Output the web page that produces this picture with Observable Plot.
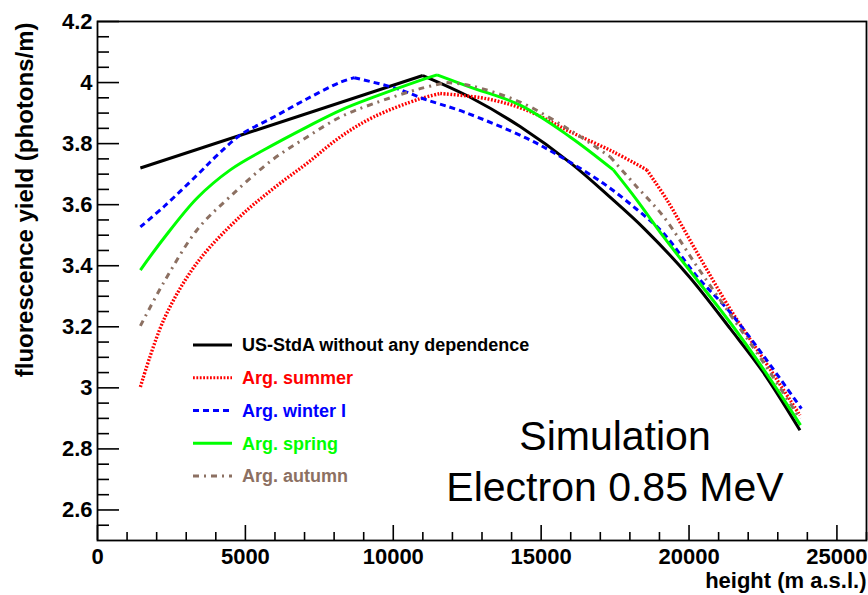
<!DOCTYPE html>
<html>
<head>
<meta charset="utf-8">
<script src="https://cdn.jsdelivr.net/npm/d3@7"></script>
<script src="https://cdn.jsdelivr.net/npm/@observablehq/plot@0.6"></script>
<style>
  html, body { margin: 0; padding: 0; background: #fff; }
  #chart svg { display: block; }
</style>
</head>
<body>
<div id="chart"></div>
<script>
// Fluorescence yield vs. height for several atmospheric profiles (electron, 0.85 MeV)

const xTicks = [0, 5000, 10000, 15000, 20000, 25000];
const yTicks = [2.6, 2.8, 3, 3.2, 3.4, 3.6, 3.8, 4, 4.2];

const seriesNames = [
  "US-StdA without any dependence",
  "Arg. summer",
  "Arg. winter I",
  "Arg. spring",
  "Arg. autumn"
];

// US standard atmosphere
const usHeights = [1450, 11000, 12600, 14300, 16000, 17300, 18500, 20000, 21400, 22500, 23750];
const usYield   = [3.72, 4.023, 3.952, 3.855, 3.736, 3.627, 3.520, 3.365, 3.193, 3.052, 2.861];
const usCorners = [11000];

// Argentina, summer
const summerHeights = [1450, 2250, 3370, 4830, 5960, 7090, 8210, 9330, 10910, 11590, 13160, 14520, 15980, 17440, 18570, 19250, 20260, 21390, 22510, 23750];
const summerYield   = [3.003, 3.225, 3.410, 3.562, 3.654, 3.736, 3.822, 3.887, 3.947, 3.964, 3.947, 3.909, 3.839, 3.773, 3.714, 3.616, 3.445, 3.258, 3.095, 2.910];
const summerCorners = [11590, 18570];

// Argentina, winter I
const winterHeights = [1450, 2250, 3370, 4050, 4830, 5960, 7090, 8210, 8680, 10130, 11020, 12380, 14520, 15750, 17100, 18230, 19130, 20260, 21390, 22510, 23800];
const winterYield   = [3.527, 3.594, 3.697, 3.762, 3.828, 3.887, 3.947, 4.001, 4.016, 3.980, 3.947, 3.904, 3.817, 3.752, 3.670, 3.585, 3.507, 3.366, 3.247, 3.106, 2.932];
const winterCorners = [8680];

// Argentina, spring
const springHeights = [1450, 2250, 3370, 4490, 5620, 7090, 8210, 9330, 10910, 11480, 12600, 14290, 15980, 17440, 18230, 19130, 20260, 21390, 22510, 23770];
const springYield   = [3.386, 3.491, 3.622, 3.714, 3.779, 3.855, 3.909, 3.952, 4.007, 4.025, 3.985, 3.926, 3.822, 3.714, 3.616, 3.496, 3.355, 3.214, 3.062, 2.878];
const springCorners = [11480, 17440];

// Argentina, autumn
const autumnHeights = [1450, 2240, 3370, 4490, 5900, 7090, 8210, 9330, 10910, 11800, 12600, 14290, 15980, 17330, 18230, 19130, 20260, 21390, 22510, 23750];
const autumnYield   = [3.203, 3.345, 3.518, 3.627, 3.746, 3.822, 3.887, 3.931, 3.980, 4.000, 3.990, 3.936, 3.844, 3.757, 3.659, 3.562, 3.399, 3.241, 3.084, 2.899];
const autumnCorners = [11800, 17330];

const styles = [
  {color: "#000000", dash: null, width: 3},
  {color: "#ff0000", dash: "1.8,1.6", width: 3.4},
  {color: "#0000ff", dash: "6,4", width: 3},
  {color: "#00ff00", dash: null, width: 3},
  {color: "#8c7062", dash: "6,5,2,5", width: 3}
];

const series = [
  {heights: usHeights, yields: usYield, corners: usCorners},
  {heights: summerHeights, yields: summerYield, corners: summerCorners},
  {heights: winterHeights, yields: winterYield, corners: winterCorners},
  {heights: springHeights, yields: springYield, corners: springCorners},
  {heights: autumnHeights, yields: autumnYield, corners: autumnCorners}
].map((s, i) => {
  const rows = s.heights.map((h, j) => ({height: h, yield: s.yields[j]}));
  // split into smooth pieces at the corner heights (the corner point belongs to both pieces)
  const pieces = [];
  let cur = [];
  rows.forEach(r => {
    cur.push(r);
    if (s.corners.includes(r.height)) { pieces.push(cur); cur = [r]; }
  });
  if (cur.length > 1) pieces.push(cur);
  return {name: seriesNames[i], ...styles[i], pieces};
});

const xMinor = d3.range(1000, 26001, 1000).filter(v => v % 5000 !== 0);
const yMinor = d3.range(2.55, 4.2, 0.05).map(v => +v.toFixed(2)).filter(v => Math.abs(v * 5 - Math.round(v * 5)) > 1e-6);

const font = "'Liberation Sans', Arial, Helvetica, sans-serif";
const W = 868, H = 595, mL = 97, mR = 2, mT = 21, mB = 55;
const plotW = W - mL - mR, plotH = H - mT - mB;

const svg = Plot.plot({
  width: W,
  height: H,
  marginLeft: mL,
  marginRight: mR,
  marginTop: mT,
  marginBottom: mB,
  x: {domain: [0, 26000]},
  y: {domain: [2.5, 4.2]},
  style: {fontFamily: font, color: "black", background: "white", overflow: "visible"},
  marks: [
    ...series.flatMap(s => s.pieces.map(p => Plot.line(p, {
      x: "height", y: "yield", curve: "catmull-rom",
      stroke: s.color, strokeWidth: s.width,
      strokeDasharray: s.dash, strokeLinecap: "butt", strokeLinejoin: "round"
    }))),
    // inward ticks along the bottom and left edges of the frame
    Plot.tickX(xMinor, {x: d => d, insetTop: plotH - 8, stroke: "black", strokeWidth: 1.6}),
    Plot.tickX(xTicks, {x: d => d, insetTop: plotH - 15, stroke: "black", strokeWidth: 1.6}),
    Plot.tickY(yMinor, {y: d => d, insetRight: plotW - 12, stroke: "black", strokeWidth: 1.6}),
    Plot.tickY(yTicks, {y: d => d, insetRight: plotW - 22, stroke: "black", strokeWidth: 1.6}),
    Plot.axisX(xTicks, {tickSize: 0, tickPadding: 8, tickFormat: d => String(d), fontSize: 22, fontWeight: "bold", label: null}),
    Plot.axisY(yTicks, {tickSize: 0, tickPadding: 5, tickFormat: d => String(d), fontSize: 22, fontWeight: "bold", label: null}),
    Plot.frame({stroke: "black", strokeWidth: 1.8}),
    // axis titles
    Plot.text(["height (m a.s.l.)"], {
      text: d => d, frameAnchor: "bottom-right", dy: 47,
      textAnchor: "end", lineAnchor: "bottom", fontSize: 22, fontWeight: "bold"
    }),
    Plot.text(["fluorescence yield (photons/m)"], {
      text: d => d, frameAnchor: "top-left", dx: -65, dy: 1, rotate: -90,
      textAnchor: "end", lineAnchor: "bottom", fontSize: 24, fontWeight: "bold"
    }),
    // annotation
    Plot.text(["Simulation"], {
      text: d => d, frameAnchor: "top-left", dx: 517.5, dy: 428,
      textAnchor: "middle", lineAnchor: "bottom", fontSize: 41
    }),
    Plot.text(["Electron 0.85 MeV"], {
      text: d => d, frameAnchor: "top-left", dx: 517.5, dy: 479,
      textAnchor: "middle", lineAnchor: "bottom", fontSize: 41
    })
  ]
});

// legend block inside the frame
const legend = d3.select(svg).append("g")
  .attr("font-family", font).attr("font-weight", "bold").attr("font-size", 18)
  .attr("text-anchor", "start");
series.forEach((s, i) => {
  const cy = 345 + i * 32.75;
  legend.append("line")
    .attr("x1", 193).attr("x2", 232).attr("y1", cy).attr("y2", cy)
    .attr("stroke", s.color).attr("stroke-width", 3)
    .attr("stroke-dasharray", s.dash);
  legend.append("text")
    .attr("x", 242).attr("y", cy).attr("dy", "0.36em")
    .attr("fill", s.color).text(s.name);
});

document.getElementById("chart").appendChild(svg);
</script>
</body>
</html>
